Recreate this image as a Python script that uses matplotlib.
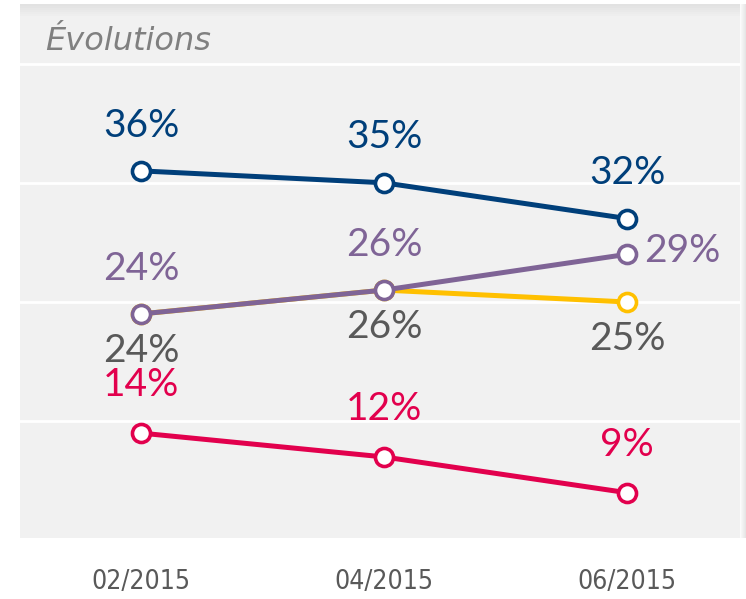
import matplotlib.pyplot as plt
from matplotlib.patches import Rectangle

# data
periods = ["02/2015", "04/2015", "06/2015"]
blue_vals = [36, 35, 32]
purple_vals = [24, 26, 29]
yellow_vals = [24, 26, 25]
red_vals = [14, 12, 9]

c_blue = "#003f7a"
c_purple = "#7f6496"
c_yellow = "#ffc000"
c_red = "#e2004d"
c_gray = "#595959"

fig = plt.figure(figsize=(7.46, 5.99), dpi=100)
ax = fig.add_axes([20/746, 61/599, 720/746, 534/599])
ax.set_facecolor("#f1f1f1")
for s in ax.spines.values():
    s.set_visible(False)

x = list(range(len(periods)))
ax.set_xlim(-0.498, 2.465)
ax.set_ylim(5.2, 50)
ax.set_yticks([15, 25, 35, 45])
ax.yaxis.grid(True, color="white", lw=2)
ax.set_axisbelow(True)
ax.tick_params(left=False, labelleft=False, bottom=False, pad=19)
ax.set_xticks(x)
ax.set_xticklabels(periods, fontsize=19, color=c_gray, fontstretch="condensed",
                   family=["DejaVu Sans"])

def series(vals, color, z):
    ax.plot(x, vals, color=color, lw=3.6, marker="o", ms=13,
            mfc="white", mec=color, mew=2.6, zorder=z)

series(red_vals, c_red, 3)
series(yellow_vals, c_yellow, 3)
series(purple_vals, c_purple, 4)
series(blue_vals, c_blue, 4)

fnt = ["Lato", "DejaVu Sans"]
lab = dict(fontsize=28, family=fnt, weight="normal", ha="center", va="center")
for i in x:
    ax.text(i, blue_vals[i] + 3.8, f"{blue_vals[i]}%", color=c_blue, **lab)
    ax.text(i, red_vals[i] + 4.0, f"{red_vals[i]}%", color=c_red, **lab)
    ax.text(i, yellow_vals[i] - 3.1, f"{yellow_vals[i]}%", color=c_gray, **lab)
for i in x[:-1]:
    ax.text(i, purple_vals[i] + 3.8, f"{purple_vals[i]}%", color=c_purple, **lab)
ax.text(x[-1] + 0.07, purple_vals[-1] + 0.3, f"{purple_vals[-1]}%", color=c_purple,
        fontsize=28, family=fnt, weight="normal", ha="left", va="center")

# title band
ax.text(0.035, 0.93, "Évolutions", transform=ax.transAxes, fontsize=23,
        style="italic", color="#808080", va="center", ha="left",
        family=["DejaVu Sans"])

# soft shadows on top and right edges
for k in range(6):
    a = 0.06 * (6 - k) / 6
    fig.patches.append(Rectangle((20/746, (595 - 2*k - 2)/599), 720/746, 2/599,
                                 transform=fig.transFigure, color="k", alpha=a, lw=0))
    fig.patches.append(Rectangle((740/746 + k/746, 61/599), 1/746, 534/599,
                                 transform=fig.transFigure, color="k", alpha=0.1 * (k + 1) / 6, lw=0))

fig.savefig("out.png", dpi=100)
